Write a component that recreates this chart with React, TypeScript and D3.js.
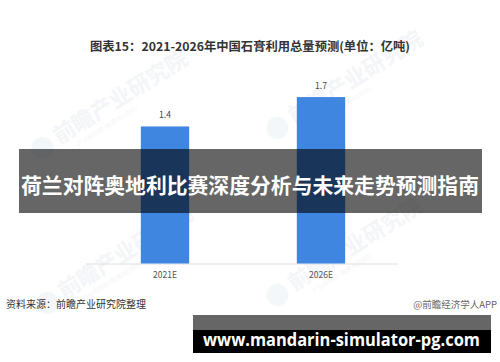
import React from "react";
import * as d3 from "d3";

const categories = ["2021E", "2026E"];
const values = [1.4, 1.7];
const valueLabels = ["1.4", "1.7"];
const title = "图表15：2021-2026年中国石膏利用总量预测(单位：亿吨)";
const source = "资料来源：前瞻产业研究院整理";
const credit = "@前瞻经济学人APP";
const banner = "荷兰对阵奥地利比赛深度分析与未来走势预测指南";
const url = "www.mandarin-simulator-pg.com";
const watermarks = [
  { x: 95, y: 115 },
  { x: 330, y: 95 },
  { x: 100, y: 270 },
  { x: 330, y: 262 },
];

export default function App() {
  const W = 500, H = 362;
  const x = d3.scaleBand().domain(categories).range([87, 399]).paddingInner(0.69).paddingOuter(0.345);
  const y = d3.scaleLinear().domain([0, 2]).range([263.5, 67.7]);
  const font = "'Noto Sans CJK SC', 'Noto Sans', sans-serif";
  return (
    <svg width={W} height={H} style={{ position: "absolute", left: 0, top: 0, background: "#fff" }} fontFamily={font}>
      <rect width={W} height={H} fill="#fff" />
      {watermarks.map((w, i) => (
        <g key={i} transform={`translate(${w.x},${w.y}) rotate(-32)`} opacity={0.4}>
          <circle cx={-62} cy={0} r={11} fill="#e6ecf3" />
          <text x={-46} y={6} fontSize={22} fontWeight={700} fill="#e4e8ee">前瞻产业研究院</text>
          <text x={-30} y={18} fontSize={6} fill="#e4e8ee">产业研究院 (股票 833599)</text>
        </g>
      ))}
      <text x={250} y={51} textAnchor="middle" fontSize={12} fontWeight={700} fill="#333" textLength={320} lengthAdjust="spacingAndGlyphs">{title}</text>
      <line x1={86} x2={398} y1={y(0) + 0.5} y2={y(0) + 0.5} stroke="#dedede" strokeWidth={1} />
      {categories.map((c, i) => (
        <g key={c}>
          <rect x={x(c)} y={y(values[i])} width={x.bandwidth()} height={y(0) - y(values[i])} fill="#3f86e0" />
          <text x={x(c)! + x.bandwidth() / 2} y={y(values[i]) - 8} textAnchor="middle" fontSize={8.5} fill="#444">{valueLabels[i]}</text>
          <text x={x(c)! + x.bandwidth() / 2} y={278} textAnchor="middle" fontSize={8.5} fill="#555">{c}</text>
        </g>
      ))}
      <text x={6} y={308} fontSize={10} fill="#333">{source}</text>
      <text x={497} y={308} textAnchor="end" fontSize={9.5} fill="#666">{credit}</text>
      <rect x={19} y={149} width={463} height={64} fill="#000" opacity={0.6} />
      <text x={250} y={193} textAnchor="middle" fontSize={21} fontWeight={700} fill="#fff" textLength={458} lengthAdjust="spacingAndGlyphs">{banner}</text>
      <rect x={193} y={315} width={298} height={38} fill="#000" opacity={0.6} />
      <rect x={193} y={330} width={298} height={23} fill="#000" />
      <text x={203} y={346} fontSize={17} fontWeight={700} fill="#fff" fontFamily="'Open Sans', sans-serif" textLength={277} lengthAdjust="spacingAndGlyphs">{url}</text>
    </svg>
  );
}
